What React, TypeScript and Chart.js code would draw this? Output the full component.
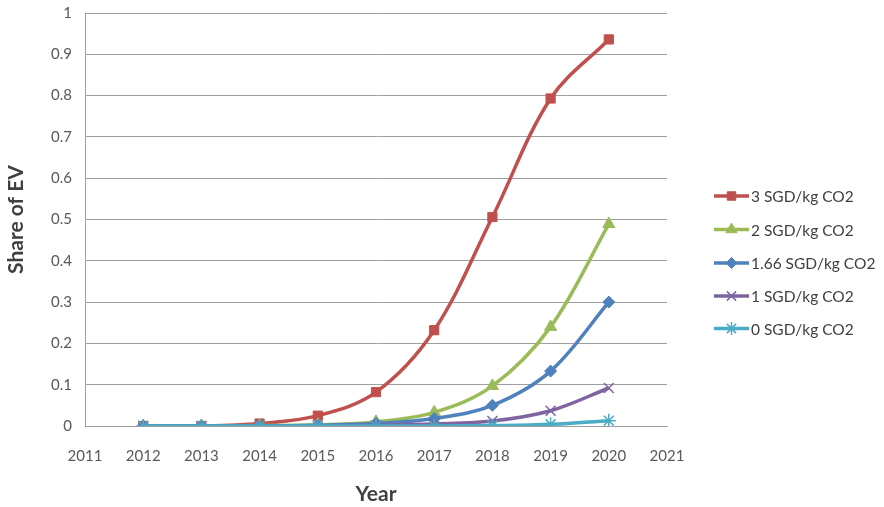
import React, { useEffect, useRef } from "react";
import { Chart, registerables } from "chart.js";
import { drawPoint } from "chart.js/helpers";

Chart.register(...registerables);

const years = [2012, 2013, 2014, 2015, 2016, 2017, 2018, 2019, 2020];
const seriesLabels = ["3 SGD/kg CO2", "2 SGD/kg CO2", "1.66 SGD/kg CO2", "1 SGD/kg CO2", "0 SGD/kg CO2"];
const s3 = [0, 0, 0.006, 0.025, 0.082, 0.232, 0.506, 0.793, 0.936];
const s2 = [0, 0, 0.001, 0.003, 0.01, 0.033, 0.097, 0.24, 0.489];
const s166 = [0, 0, 0, 0.002, 0.006, 0.018, 0.05, 0.133, 0.3];
const s1 = [0, 0, 0, 0, 0.002, 0.005, 0.012, 0.037, 0.092];
const s0 = [0, 0, 0, 0, 0, 0, 0.001, 0.004, 0.013];
const yTicks = [0, 0.1, 0.2, 0.3, 0.4, 0.5, 0.6, 0.7, 0.8, 0.9, 1];

const colors = ["#C0504D", "#9BBB59", "#4F81BD", "#8064A2", "#4BACC6"];
const styles = ["rect", "triangle", "rectRot", "crossRot", "star"];
const radii = [6.5, 7, 6, 7, 7];
const FONT = "Lato, 'Open Sans', sans-serif";

export default function App() {
  const ref = useRef<HTMLCanvasElement>(null);
  useEffect(() => {
    document.body.style.margin = "0";
    const all = [s3, s2, s166, s1, s0];
    const datasets = all.map((vals, i) => ({
      label: seriesLabels[i],
      data: years.map((y, j) => ({ x: y, y: vals[j] })),
      borderColor: colors[i],
      backgroundColor: colors[i],
      borderWidth: 3.5,
      tension: 0.35,
      pointStyle: styles[i],
      pointRadius: radii[i],
      pointBorderWidth: i >= 3 ? 1.5 : 1,
      pointBorderColor: colors[i],
      pointBackgroundColor: colors[i],
      order: 4 - i,
    }));
    const legendPlugin = {
      id: "customLegend",
      afterDraw(chart: any) {
        const ctx = chart.ctx;
        ctx.save();
        const ys = [196, 229.5, 263, 296, 328.5];
        seriesLabels.forEach((lab, i) => {
          const y = ys[i];
          ctx.strokeStyle = colors[i];
          ctx.fillStyle = colors[i];
          ctx.lineWidth = 3.5;
          ctx.beginPath();
          ctx.moveTo(714, y);
          ctx.lineTo(749, y);
          ctx.stroke();
          ctx.lineWidth = i >= 3 ? 1.5 : 1;
          drawPoint(ctx, { pointStyle: styles[i], radius: radii[i] - 0.5, rotation: 0, borderWidth: ctx.lineWidth } as any, 731.5, y);
          ctx.fillStyle = "#404040";
          ctx.font = `15.5px ${FONT}`;
          ctx.textBaseline = "middle";
          ctx.textAlign = "left";
          ctx.fillText(lab, 751, y + 1);
        });
        ctx.restore();
      },
    };
    const chart = new Chart(ref.current!, {
      type: "line",
      data: { datasets: datasets as any },
      options: {
        animation: false,
        responsive: false,
        layout: { padding: { left: 0, right: 217, top: 13, bottom: 0 } },
        plugins: { legend: { display: false }, tooltip: { enabled: false } },
        scales: {
          x: {
            type: "linear",
            min: 2011,
            max: 2021,
            afterFit: (s: any) => { s.height = 81; s.paddingLeft = 0; s.paddingRight = 0; },
            ticks: { stepSize: 1, callback: (v: any) => String(v), color: "#595959", font: { family: FONT, size: 15 }, padding: 21, maxRotation: 0 },
            grid: { display: false, drawTicks: false },
            border: { display: true, color: "#9f9f9f", width: 1 },
            title: { display: true, text: "Year", color: "#404040", font: { family: FONT, size: 21, weight: "bold" }, padding: { top: 4, bottom: 0 } },
          },
          y: {
            min: 0,
            max: 1,
            afterFit: (s: any) => { s.width = 85; s.paddingTop = 0; s.paddingBottom = 0; },
            afterBuildTicks: (s: any) => { s.ticks = yTicks.map((v) => ({ value: v })); },
            ticks: { callback: (v: any) => String(+(+v).toFixed(1)), color: "#595959", font: { family: FONT, size: 15 }, padding: 13, },
            grid: { color: "#9f9f9f", lineWidth: 1, drawTicks: false },
            border: { display: true, color: "#9f9f9f", width: 1 },
            title: { display: true, text: "Share of EV", color: "#404040", font: { family: FONT, size: 21, weight: "bold" }, padding: { top: 4, bottom: 4 } },
          },
        },
      },
      plugins: [legendPlugin],
    });
    return () => chart.destroy();
  }, []);
  return (
    <div style={{ position: "absolute", left: 0, top: 0, width: 884, height: 507, background: "#fff" }}>
      <canvas ref={ref} width={884} height={507} style={{ width: 884, height: 507 }} />
    </div>
  );
}
